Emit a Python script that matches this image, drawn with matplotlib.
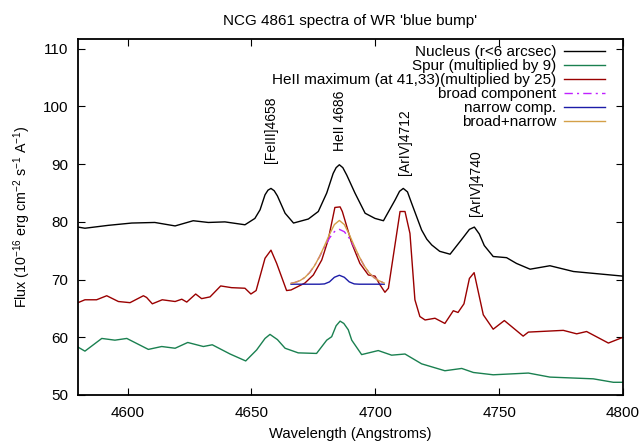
import numpy as np
import matplotlib
matplotlib.use("Agg")
import matplotlib.pyplot as plt

plt.rcParams['font.family'] = ['Liberation Sans', 'DejaVu Sans']
plt.rcParams['mathtext.fontset'] = 'custom'
plt.rcParams['mathtext.rm'] = 'Liberation Sans'

# Nucleus spectrum (r<6 arcsec)
nuc_wl = [4580, 4582.8, 4592.2, 4601.7, 4611, 4619.2, 4626.5, 4632.6, 4639.3, 4647.4,
          4651.4, 4653.5, 4655.5, 4656.7, 4657.9, 4659.2, 4660.5, 4663.6, 4667, 4673,
          4677, 4680.4, 4683, 4684.2, 4685.5, 4686.9, 4688.5, 4691.8, 4695.9, 4699.9,
          4703.3, 4708, 4709.8, 4711.3, 4713, 4714.7, 4718.7, 4720.8, 4722.8, 4726,
          4730.2, 4735.5, 4738, 4740, 4742, 4744, 4747.6, 4753, 4757, 4762.5,
          4770.5, 4780, 4790, 4800]
nuc_fl = [79.1, 78.9, 79.4, 79.8, 79.9, 79.3, 80.2, 79.9, 80.0, 79.5,
          80.6, 82.1, 84.7, 85.5, 85.8, 85.4, 84.5, 81.5, 79.8, 80.5,
          81.8, 85.0, 88.4, 89.4, 89.9, 89.4, 88.1, 85.0, 81.5, 80.6,
          80.2, 83.8, 85.3, 85.8, 85.2, 83.2, 78.6, 77.0, 76.0, 74.9,
          74.4, 77.3, 78.7, 79.1, 77.9, 75.9, 74.0, 73.8, 72.8, 71.8,
          72.4, 71.4, 71.0, 70.6]

# Spur (multiplied by 9)
spur_wl = [4580, 4582.8, 4589.6, 4594.9, 4599.7, 4608.4, 4613.8, 4619.2, 4624.3, 4630.6,
           4634.2, 4641.4, 4647.7, 4652.1, 4655.5, 4657.5, 4660.5, 4663.6, 4668.9, 4676.3,
           4680.4, 4682.4, 4684.2, 4685.8, 4687.3, 4689.1, 4690.5, 4694.5, 4701.2, 4706.6,
           4712, 4718.7, 4728.1, 4734.9, 4739.6, 4747.6, 4761.8, 4770.5, 4788, 4796.1,
           4800]
spur_fl = [58.3, 57.6, 59.8, 59.5, 59.8, 57.9, 58.4, 58.1, 59.1, 58.4,
           58.7, 57.1, 55.9, 57.8, 59.8, 60.5, 59.6, 58.1, 57.3, 57.2,
           59.5, 60.1, 62.0, 62.8, 62.4, 61.3, 59.5, 57.0, 57.7, 56.9,
           57.1, 55.4, 54.2, 54.6, 53.9, 53.5, 53.8, 53.1, 52.8, 52.2,
           52.2]

# HeII maximum (at 41,33) (multiplied by 25)
heii_wl = [4580, 4582.8, 4587.5, 4591.6, 4596.3, 4601, 4606.4, 4607.7, 4610, 4614,
           4619.2, 4621.9, 4623.9, 4627.5, 4629.9, 4633.3, 4637.6, 4642, 4647.4, 4649.8,
           4651.9, 4655.5, 4657.9, 4660.2, 4664.2, 4666, 4671.6, 4675, 4678.4, 4681,
           4683.7, 4685.8, 4686.7, 4688.5, 4690.5, 4693.8, 4697.2, 4699.9, 4701.9, 4703.9,
           4705.3, 4710, 4712, 4714, 4716, 4718, 4720.1, 4724.1, 4728.1, 4731.5,
           4733.4, 4735.8, 4738, 4739.9, 4743.6, 4747.6, 4752.1, 4759.7, 4761.8, 4775.9,
           4781.3, 4785.3, 4794.1, 4800]
heii_fl = [66.0, 66.5, 66.5, 67.2, 66.2, 66.0, 67.2, 66.9, 65.8, 66.5,
           66.2, 66.6, 66.1, 67.5, 66.7, 67.0, 68.9, 68.6, 68.5, 67.5,
           68.1, 73.7, 75.1, 72.8, 68.1, 68.2, 69.4, 70.8, 73.4, 76.9,
           82.5, 82.6, 81.8, 79.2, 76.3, 72.8, 70.8, 70.6, 69.1, 67.8,
           68.5, 81.8, 81.8, 78.0, 66.5, 63.6, 63.0, 63.3, 62.4, 64.6,
           64.3, 65.8, 70.2, 71.2, 63.9, 61.4, 62.9, 60.2, 60.9, 61.2,
           60.6, 61.0, 59.0, 60.0]

# Fit of HeII 4686
fit_wl = [4666, 4667.5, 4669.5, 4671.5, 4673.5, 4675.5, 4677.5, 4679.5, 4681.5, 4683.5,
          4685.5, 4687.5, 4689.5, 4691.5, 4693.5, 4695.5, 4697.5, 4699.5, 4701.5, 4703.6]
broad_fl = [69.36, 69.49, 69.80, 70.34, 71.20, 72.42, 73.96, 75.64, 77.19, 78.30,
            78.70, 78.30, 77.19, 75.64, 73.96, 72.42, 71.20, 70.34, 69.80, 69.40]
narrow_fl = [69.2, 69.2, 69.2, 69.2, 69.2, 69.2, 69.2, 69.25, 69.6, 70.4,
             70.75, 70.4, 69.6, 69.25, 69.2, 69.2, 69.2, 69.2, 69.2, 69.2]
sum_fl = [69.36, 69.49, 69.80, 70.34, 71.20, 72.42, 74.00, 75.85, 77.83, 79.54,
          80.25, 79.54, 77.83, 75.85, 74.00, 72.42, 71.20, 70.34, 69.80, 69.40]

# line identifications
line_names = ['[FeIII]4658', 'HeII 4686', '[ArIV]4712', '[ArIV]4740']
line_wl = [4657.8, 4685.8, 4712.0, 4740.7]
line_y = [90.2, 92.2, 88.1, 81.0]

fig = plt.figure(figsize=(6.43, 4.44), dpi=100)
ax = fig.add_axes([0.1213, 0.1104, 0.8476, 0.8018])

ax.plot(nuc_wl, nuc_fl, color='black', lw=1.0, label='Nucleus (r<6 arcsec)')
ax.plot(spur_wl, spur_fl, color='#1a8050', lw=1.0, label='Spur (multiplied by 9)')
ax.plot(heii_wl, heii_fl, color='#9a0000', lw=1.0, label='HeII maximum (at 41,33)(multiplied by 25)')
ax.plot(fit_wl, broad_fl, color='#c020ff', lw=1.0, ls=(0, (6, 3, 1.5, 3)), label='broad component')
ax.plot(fit_wl, narrow_fl, color='#1c1ca8', lw=1.0, label='narrow comp.')
ax.plot(fit_wl, sum_fl, color='#d4a048', lw=1.0, label='broad+narrow')

for name, x, y in zip(line_names, line_wl, line_y):
    ax.text(x, y, name, rotation=90, ha='center', va='bottom', fontsize=10)

ax.set_xlim(4580, 4800)
ax.set_ylim(50, 111.7)
ax.set_xticks([4600, 4650, 4700, 4750, 4800])
ax.set_yticks([50, 60, 70, 80, 90, 100, 110])
ax.tick_params(direction='in', top=True, right=True, length=5, width=0.8, labelsize=11)
ax.tick_params(axis='x', pad=8)
ax.tick_params(axis='y', pad=7)
for s in ax.spines.values():
    s.set_linewidth(1.3)

ax.set_title("NCG 4861 spectra of WR 'blue bump'", fontsize=11, pad=10)
ax.set_xlabel('Wavelength (Angstroms)', fontsize=10.6, labelpad=5)
ax.set_ylabel(r'Flux (10$^{-16}$ erg cm$^{-2}$ s$^{-1}$ A$^{-1}$)', fontsize=10.3, labelpad=7)

ax.legend(loc='upper right', frameon=False, markerfirst=False, fontsize=11,
          handlelength=2.7, handletextpad=0.52, labelspacing=0.0,
          borderaxespad=0.3, bbox_to_anchor=(0.987, 1.012))

fig.savefig('out.png', dpi=100)
